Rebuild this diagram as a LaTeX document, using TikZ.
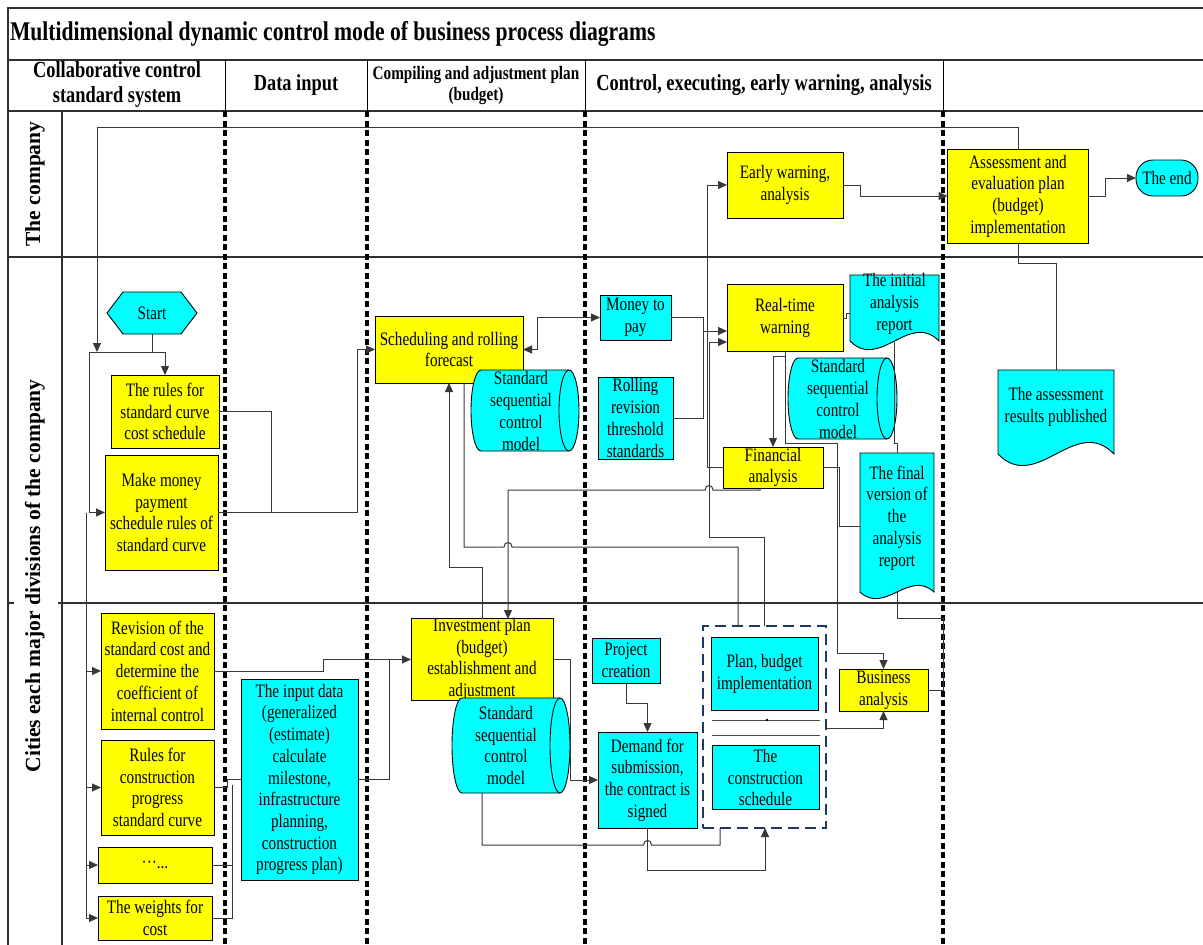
\documentclass[tikz,border=0pt]{standalone}
\usepackage{fontspec}
\setmainfont{Liberation Serif}[FakeStretch=0.8]
\newfontfamily\lanefont{Liberation Serif}
\usetikzlibrary{arrows.meta,calc}
\definecolor{ycol}{HTML}{FFFF00}
\definecolor{ccol}{HTML}{00FFFF}
\definecolor{framecol}{HTML}{303030}
\definecolor{lncol}{HTML}{383838}
\definecolor{dboxcol}{HTML}{1F3864}
\newcommand{\docshape}[5]{%
  \filldraw[shp] (#1,#2) -- (#3,#2) -- (#3,#4) .. controls ({#3-(#3-#1)/3},{#4-#5}) and ({#1+(#3-#1)/3},{#4+#5}) .. (#1,#4) -- cycle;}
\newcommand{\cylshape}[4]{%
  \pgfmathsetmacro\cyM{(#2+#4)/2}\pgfmathsetmacro\cyK{0.552*(#4-#2)/2}%
  \filldraw[shp] ({#1+10},#2) -- ({#3-10},#2) .. controls ({#3-4.48},#2) and (#3,{\cyM-\cyK}) .. (#3,\cyM)
     .. controls (#3,{\cyM+\cyK}) and ({#3-4.48},#4) .. ({#3-10},#4) -- ({#1+10},#4)
     .. controls ({#1+4.48},#4) and (#1,{\cyM+\cyK}) .. (#1,\cyM)
     .. controls (#1,{\cyM-\cyK}) and ({#1+4.48},#2) .. ({#1+10},#2) -- cycle;
  \draw[black, line width=0.9pt] ({#3-10},#2) .. controls ({#3-15.52},#2) and ({#3-20},{\cyM-\cyK}) .. ({#3-20},\cyM)
     .. controls ({#3-20},{\cyM+\cyK}) and ({#3-15.52},#4) .. ({#3-10},#4);}
\begin{document}
\begin{tikzpicture}[x=1pt,y=-1pt,
  every node/.style={inner sep=0pt, outer sep=0pt},
  txt/.style={font=\fontsize{19}{21.7}\selectfont, align=center},
  ybox/.style={txt, draw=black, fill=ycol, line width=0.9pt},
  cbox/.style={txt, draw=black, fill=ccol, line width=0.9pt},
  shp/.style={draw=black, fill=ccol, line width=0.9pt},
  ln/.style={draw=lncol, line width=1pt},
  arr/.style={ln, -{Triangle[length=9pt,width=8pt]}},
  arrb/.style={ln, {Triangle[length=9pt,width=8pt]}-{Triangle[length=9pt,width=8pt]}},
  gridln/.style={draw=framecol, line width=1.5pt},
  sepln/.style={draw=black, line width=3.2pt, dash pattern=on 6pt off 3.5pt},
  hdr/.style={font=\bfseries\fontsize{23}{25}\selectfont, align=center},
  lane/.style={rotate=90, font=\lanefont\bfseries\fontsize{21.5}{24}\selectfont}
]
\useasboundingbox (0,0) rectangle (1203,945);
\fill[white] (0,0) rectangle (1203,945);

% ---- frame / grid
\draw[gridln] (8,945) -- (8,8) -- (1203,8);
\draw[gridln] (8,60) -- (1203,60);
\draw[gridln] (8,111) -- (1203,111);
\draw[gridln] (8,257) -- (1203,257);
\draw[gridln] (58,603) -- (1203,603);
\draw[gridln] (8,603) -- (14,603);
\draw[gridln] (62,111) -- (62,945);
\foreach \xx in {225,367,585,943} {
  \draw[draw=black, line width=1pt] (\xx,60) -- (\xx,111);
  \draw[sepln] (\xx,111) -- (\xx,945);
}

% ---- title and headers
\node[anchor=west, font=\bfseries\fontsize{27}{29}\selectfont] (title) at (10,34) {Multidimensional dynamic control mode of business process diagrams};
\node[hdr] (h1) at (117,85) {Collaborative control\\standard system};
\node[hdr] (h2) at (296,85) {Data input};
\node[font=\bfseries\fontsize{19}{21}\selectfont, align=center] (h3) at (476,86) {Compiling and adjustment plan\\(budget)};
\node[hdr] (h4) at (764,85) {Control, executing, early warning, analysis};
\node[lane] (l1) at (35,184) {The company};
\node[lane] (l2) at (35,576) {Cities each major divisions of the company};

% ---- company lane
\node[ybox, minimum width=116, minimum height=66] (ew) at (785,185) {Early warning,\\analysis};
\node[ybox, minimum width=141, minimum height=94] (ae) at (1018,196) {Assessment and\\evaluation plan\\(budget)\\implementation};
\node[cbox, rounded corners=17pt, minimum width=62, minimum height=36] (theend) at (1167,178) {The end};

% ---- divisions lane, upper part
\filldraw[shp] (107,313) -- (123,292) -- (181,292) -- (197,313) -- (181,334) -- (123,334) -- cycle;
\node[txt, minimum width=90, minimum height=42] (start) at (152,313) {Start};
\node[ybox, minimum width=108, minimum height=73] (rules) at (165,411.5) {The rules for\\standard curve\\cost schedule};
\node[ybox, minimum width=113, minimum height=115] (money) at (161.5,512.5) {Make money\\payment\\schedule rules of\\standard curve};
\node[ybox, minimum width=148, minimum height=67] (sched) at (449,349.5) {Scheduling and rolling\\forecast};
\cylshape{471}{370}{579}{451}
\node[txt] (cylA) at (521,411) {Standard\\sequential\\control\\model};
\node[cbox, minimum width=71, minimum height=45] (mpay) at (635.5,317.5) {Money to\\pay};
\node[cbox, minimum width=75, minimum height=82] (roll) at (635.5,418) {Rolling\\revision\\threshold\\standards};
\node[ybox, minimum width=116, minimum height=67] (rtw) at (785,318) {Real-time\\warning};
\docshape{850}{275}{939}{341}{30}
\node[txt] (ini) at (894.5,304) {The initial\\analysis\\report};
\cylshape{788}{358}{897}{439}
\node[txt] (cylB) at (838,399) {Standard\\sequential\\control\\model};
\node[ybox, minimum width=100, minimum height=41] (fin) at (773,467.5) {Financial\\analysis};
\docshape{860}{453}{934}{592}{23}
\node[txt] (finrep) at (897,518) {The final\\version of\\the\\analysis\\report};
\docshape{998}{370}{1114}{454}{40}
\node[txt] (res) at (1056,407) {The assessment\\results published};

% ---- divisions lane, lower part
\node[ybox, minimum width=113, minimum height=116] (rev) at (157.5,671) {Revision of the\\standard cost and\\determine the\\coefficient of\\internal control};
\node[ybox, minimum width=113, minimum height=95] (rcons) at (157.5,787.5) {Rules for\\construction\\progress\\standard curve};
\node[ybox, minimum width=114, minimum height=36] (dots) at (155,865) {···...};
\node[ybox, minimum width=114, minimum height=44] (weights) at (155,918) {The weights for\\cost};
\node[cbox, minimum width=117, minimum height=201] (input) at (299.5,779.5) {The input data\\(generalized\\(estimate)\\calculate\\milestone,\\infrastructure\\planning,\\construction\\progress plan)};
\node[ybox, minimum width=142, minimum height=81] (inv) at (482,659.5) {Investment plan\\(budget)\\establishment and\\adjustment};
\cylshape{452}{698}{570}{793}
\node[txt, minimum width=108, minimum height=95] (cylC) at (506,745.5) {Standard\\sequential\\control\\model};
\node[cbox, minimum width=68, minimum height=45] (proj) at (626,660.5) {Project\\creation};
\node[cbox, minimum width=99, minimum height=96] (demand) at (647.5,780) {Demand for\\submission,\\the contract is\\signed};
\node[draw=dboxcol, line width=1.8pt, dash pattern=on 11pt off 6pt, minimum width=123, minimum height=202] (grp) at (764.5,727) {};
\node[cbox, minimum width=107, minimum height=73] (plan) at (764.5,674) {Plan, budget\\implementation};
\node[cbox, minimum width=107, minimum height=64] (cons) at (765.5,777.5) {The\\construction\\schedule};
\draw[draw=gray!60!black, line width=1pt] (712,720) -- (820,720);
\draw[draw=gray!60!black, line width=1pt] (712,735) -- (820,735);
\fill[black] (767,720) circle (1.3);
\node[ybox, minimum width=89, minimum height=42] (bus) at (883.5,690) {Business\\analysis};

% ---- connectors
\draw[arr] (ae.north) -- (1018,127) -- (97,127) -- (97,352);
\draw[ln] (start.south) -- (152,352);
\draw[arr] (89,352) -| (rules.north);
\draw[arr] (89,352) |- (money.west);
\coordinate (fb) at (86,512.5);
\draw[arr] (fb) |- (rev.west);
\draw[arr] (fb) |- (rcons.west);
\draw[arr] (fb) |- (dots.west);
\draw[arr] (fb) |- (weights.west);
\draw[ln] (rules.east) -| (271,512.5);
\draw[arr] (money.east) -- (357,512.5) |- (sched.west);
\draw[arrb] (sched.east) -- (537,349.5) |- (mpay.west);
\draw[arr] (mpay.east) -- (703,317.5) |- ($(rtw.west)+(0,13)$);
\draw[ln] (roll.east) -| (703,331);
\draw[arr] (fin.west) -- (707,467.5) |- (ew.west);
\draw[arr] (764,626) -- (764,537) -- (709,537) |- ($(rtw.west)+(0,24)$);
\draw[arr] (rtw.south) -- (785,356) -| (fin.north);
\draw[arr] (rtw.south) -- (785,443) -- (837,443) -- (837,653) -| (bus.north);
\draw[ln] (rtw.east) -- (846,318) -- (846,313) -- (850,313);
\draw[ln] (894,341) -- (894,443) -- (897,443) -- (897,453);
\draw[ln] (fin.east) -- (839,467.5) |- (860,526);
\draw[ln] (897,592) -- (897,618) -- (943,618) |- (bus.east);
\draw[arr] (760,488) -- (760,490) -- (713,490) .. controls (713,484) and (705,484) .. (705,490) -- (508,490) -- (508,619);
\draw[ln] (464,383) -- (464,547) -- (504,547) .. controls (504,541) and (512,541) .. (512,547) -- (738,547) -- (738,626);
\draw[arr] (482,619) -- (482,567) -- (449,567) -- (sched.south);
\draw[arr] (rev.east) -- (323,671) |- (inv.west);
\draw[ln] (input.east) -| (389,659.5);
\draw[ln] (rcons.east) -- (227,787.5) |- (input.west);
\draw[ln] (dots.east) -- (232,865);
\draw[ln] (weights.east) -| (232,785);
\draw[arr] (inv.east) -- (570,659.5) |- (demand.west);
\draw[arr] (proj.south) -- (626,703) -| (demand.north);
\draw[ln] (482,793) -- (482,845) -- (643.5,845) .. controls (643.5,839) and (651.5,839) .. (651.5,845) -- (720,845) -- (720,828);
\draw[arr] (demand.south) -- (647.5,870) -| (765,828);
\draw[arr] (826,728) -| (bus.south);
\draw[arr] (ew.east) -- (860,185) |- (ae.west);
\draw[arr] (ae.east) -- (1105,196) |- (theend.west);
\draw[ln] (ae.south) -- (1018,263) -| (1056,370);
\end{tikzpicture}
\end{document}
